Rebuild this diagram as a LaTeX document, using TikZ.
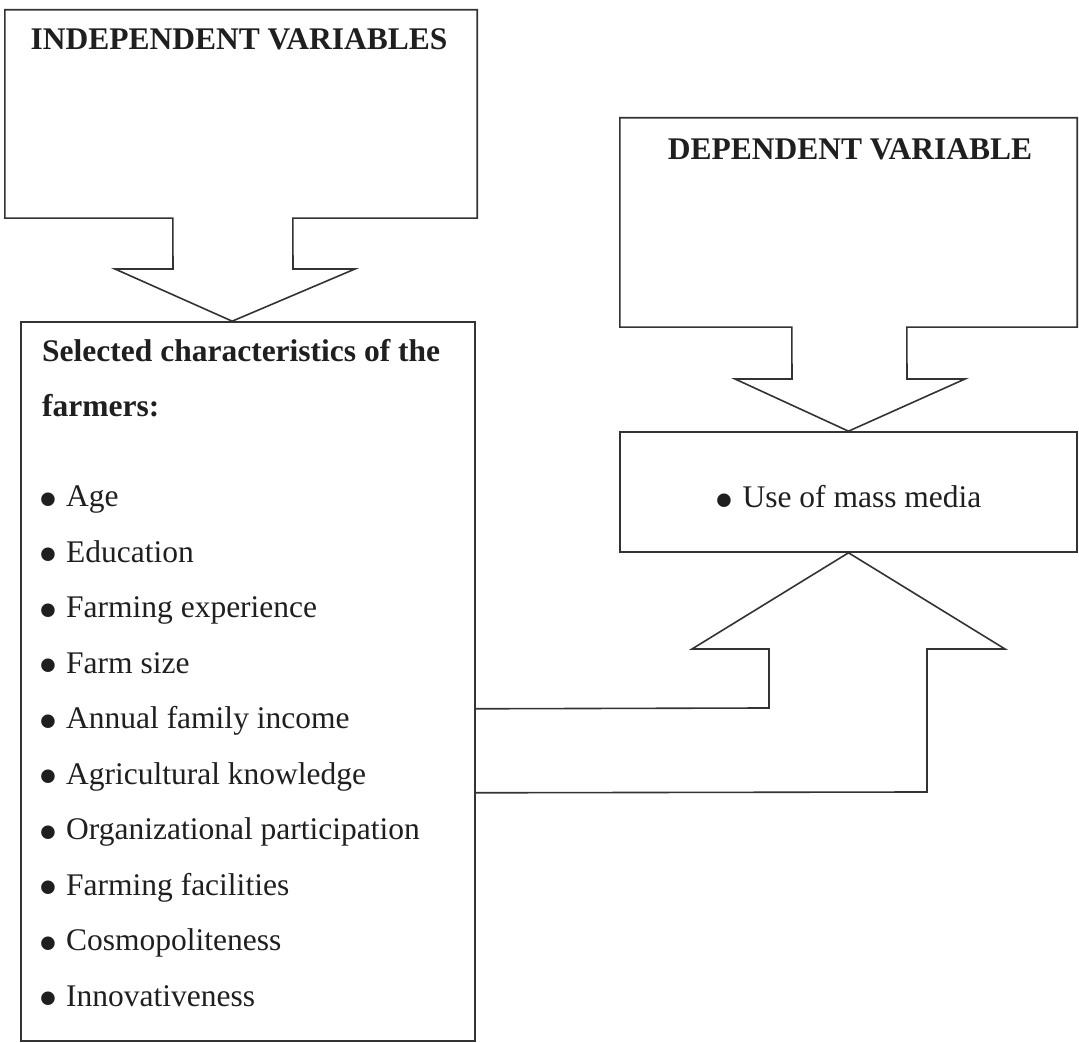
\documentclass[tikz,border=0pt]{standalone}
\usepackage{fontspec}
\setmainfont{Liberation Serif}
\usepackage{graphicx}
\usepackage{tikz}
\usetikzlibrary{calc}
\definecolor{ink}{gray}{0.2}
\definecolor{textink}{gray}{0.12}
\newcommand{\bigdot}{\hspace{-0.12em}\raisebox{-0.36em}{\scalebox{1.8}{\textbullet}}\hspace{0.25em}}

\begin{document}
\begin{tikzpicture}[x=1pt,y=1pt,
    box/.style={inner sep=0pt},
    frame/.style={draw=ink,line width=1.6pt},
    outline/.style={draw=ink,line width=1.6pt,line join=miter},
    title/.style={font=\fontsize{31.5}{37}\selectfont\bfseries,text=textink,anchor=base,inner sep=0pt},
    head/.style={font=\fontsize{31.5}{37}\selectfont\bfseries,text=textink,anchor=base west,inner sep=0pt},
    item/.style={font=\fontsize{31.5}{37}\selectfont,text=textink,anchor=base west,inner sep=0pt}]
    \useasboundingbox (0,0) rectangle (1079,1043);
    % boxes
    \node [box,minimum width=472pt,minimum height=208pt] (indep) at (241,929) {};
    \node [box,frame,minimum width=454pt,minimum height=719pt] (sel) at (248,361.5) {};
    \node [box,minimum width=457pt,minimum height=209pt] (dep) at (848.5,820.5) {};
    \node [box,frame,minimum width=457pt,minimum height=120pt] (media) at (848.5,551) {};
    % outlines with the block arrows
    \draw [outline] ($(indep.south west)+(168,0)$) -- (indep.south west) -- (indep.north west)
        -- (indep.north east) -- (indep.south east) -- ($(indep.south west)+(288,0)$)
        -- (293,774) -- (355,774) -- ($(sel.north west)+(212,0)$) -- (115,774) -- (173,774) -- cycle;
    \draw [outline] ($(dep.south west)+(172,0)$) -- (dep.south west) -- (dep.north west)
        -- (dep.north east) -- (dep.south east) -- ($(dep.south west)+(287,0)$)
        -- (907,664) -- (965,664) -- (media.north) -- (735,664) -- (792,664) -- cycle;
    \draw [outline] ($(sel.south east)+(0,333)$) -- (769,335) -- (769,394) -- (692,394)
        -- (media.south) -- (1005,394) -- (927,394) -- (927,251) -- ($(sel.south east)+(0,249)$);
    % texts
    \node [title] (indeptitle) at (239,993) {INDEPENDENT VARIABLES};
    \node [title] (deptitle) at (850,883) {DEPENDENT VARIABLE};
    \node [head] (selhead) at (42,681) {Selected characteristics of the};
    \node [head] (farmers) at (42,626) {farmers:};
    \node [item] (age) at (42,536) {\bigdot Age};
    \node [item] (edu) at (42,480.5) {\bigdot Education};
    \node [item] (exper) at (42,425) {\bigdot Farming experience};
    \node [item] (size) at (42,369.5) {\bigdot Farm size};
    \node [item] (income) at (42,314) {\bigdot Annual family income};
    \node [item] (knowl) at (42,258.5) {\bigdot Agricultural knowledge};
    \node [item] (partic) at (42,203) {\bigdot Organizational participation};
    \node [item] (facil) at (42,147.5) {\bigdot Farming facilities};
    \node [item] (cosmo) at (42,92) {\bigdot Cosmopoliteness};
    \node [item] (innov) at (42,36.5) {\bigdot Innovativeness};
    \node [title,font=\fontsize{31.5}{37}\selectfont] (usemedia) at (850,535) {\bigdot Use of mass media};
\end{tikzpicture}
\end{document}
